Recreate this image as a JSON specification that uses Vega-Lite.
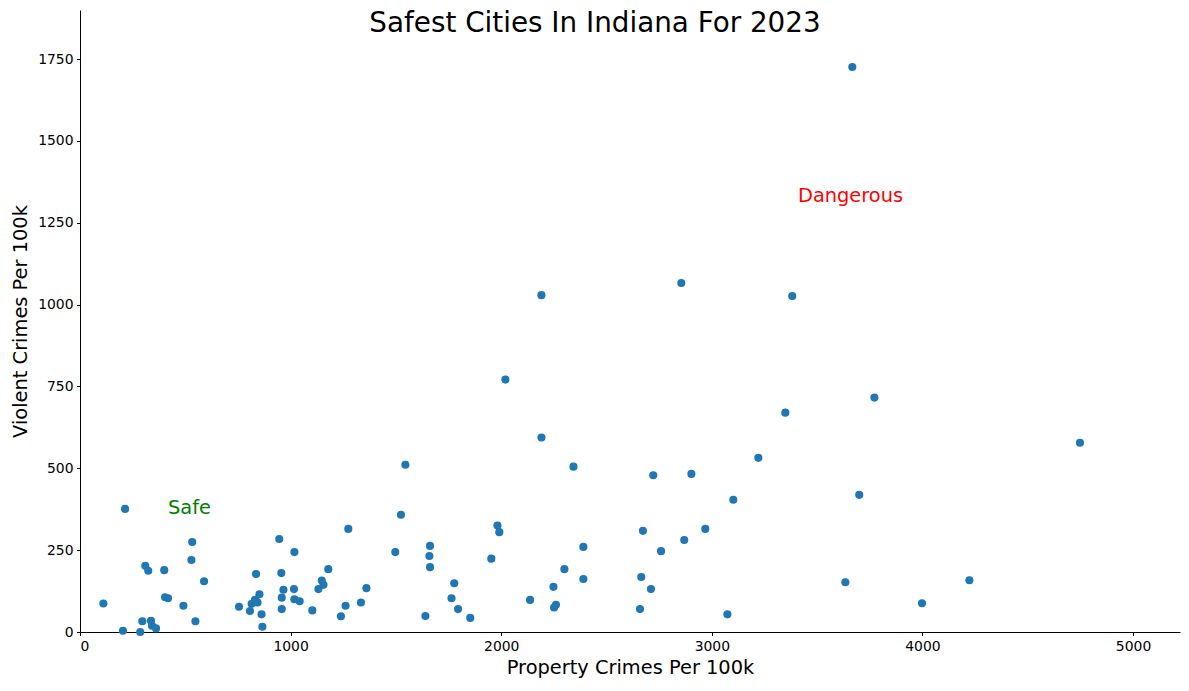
{
  "$schema": "https://vega.github.io/schema/vega-lite/v6.json",
  "width": 1100,
  "height": 622,
  "autosize": "none",
  "padding": {"left": 80, "top": 10, "right": 9, "bottom": 59},
  "background": "white",
  "config": {
    "font": "DejaVu Sans",
    "view": {"stroke": null},
    "axis": {
      "grid": false,
      "domainColor": "black",
      "domainWidth": 1,
      "tickColor": "black",
      "tickSize": 3.5,
      "tickWidth": 1,
      "labelFont": "DejaVu Sans",
      "labelFontSize": 13.9,
      "labelColor": "black",
      "labelPadding": 3.5,
      "titleFont": "DejaVu Sans",
      "titleFontSize": 19.4,
      "titleFontWeight": "normal",
      "titleColor": "black"
    }
  },
  "title": {
    "text": "Safest Cities In Indiana For 2023",
    "font": "DejaVu Sans",
    "fontSize": 27.8,
    "fontWeight": "normal",
    "color": "black",
    "anchor": "middle",
    "frame": "group",
    "dx": -35,
    "dy": 27,
    "baseline": "alphabetic",
    "offset": -23
  },
  "datasets": {
    "cities": [
      {"property": 214, "violent": 376}, {"property": 1274, "violent": 315}, {"property": 533, "violent": 275},
      {"property": 946, "violent": 284}, {"property": 1018, "violent": 244}, {"property": 529, "violent": 220},
      {"property": 310, "violent": 202}, {"property": 324, "violent": 187}, {"property": 400, "violent": 189},
      {"property": 1179, "violent": 192}, {"property": 836, "violent": 177}, {"property": 956, "violent": 180},
      {"property": 589, "violent": 155}, {"property": 1148, "violent": 157}, {"property": 1156, "violent": 144},
      {"property": 1132, "violent": 131}, {"property": 966, "violent": 129}, {"property": 1016, "violent": 131},
      {"property": 852, "violent": 115}, {"property": 404, "violent": 106}, {"property": 418, "violent": 103},
      {"property": 831, "violent": 98}, {"property": 958, "violent": 105}, {"property": 1018, "violent": 100},
      {"property": 1043, "violent": 94}, {"property": 111, "violent": 87}, {"property": 491, "violent": 80},
      {"property": 755, "violent": 77}, {"property": 815, "violent": 86}, {"property": 843, "violent": 90},
      {"property": 1261, "violent": 80}, {"property": 958, "violent": 70}, {"property": 1103, "violent": 66},
      {"property": 1239, "violent": 48}, {"property": 807, "violent": 64}, {"property": 862, "violent": 54},
      {"property": 548, "violent": 33}, {"property": 866, "violent": 16}, {"property": 296, "violent": 33},
      {"property": 337, "violent": 34}, {"property": 342, "violent": 19}, {"property": 361, "violent": 11},
      {"property": 204, "violent": 4}, {"property": 286, "violent": 0},
      {"property": 1524, "violent": 358}, {"property": 1497, "violent": 244}, {"property": 1662, "violent": 263},
      {"property": 1659, "violent": 232}, {"property": 1662, "violent": 198}, {"property": 1982, "violent": 325},
      {"property": 1991, "violent": 305}, {"property": 1953, "violent": 224}, {"property": 2390, "violent": 260},
      {"property": 2300, "violent": 192}, {"property": 2390, "violent": 162}, {"property": 2248, "violent": 138},
      {"property": 1777, "violent": 149}, {"property": 1764, "violent": 103}, {"property": 1795, "violent": 70},
      {"property": 1853, "violent": 43}, {"property": 1640, "violent": 49}, {"property": 2137, "violent": 98},
      {"property": 2260, "violent": 83}, {"property": 2251, "violent": 75}, {"property": 1360, "violent": 134},
      {"property": 1334, "violent": 90}, {"property": 1545, "violent": 511},
      {"property": 3102, "violent": 404}, {"property": 3700, "violent": 419}, {"property": 2673, "violent": 309},
      {"property": 2969, "violent": 315}, {"property": 2869, "violent": 281}, {"property": 2759, "violent": 247},
      {"property": 2665, "violent": 168}, {"property": 2711, "violent": 131}, {"property": 2659, "violent": 70},
      {"property": 3074, "violent": 54}, {"property": 3634, "violent": 152},
      {"property": 4748, "violent": 578}, {"property": 4223, "violent": 158}, {"property": 3998, "violent": 88},
      {"property": 3667, "violent": 1726}, {"property": 2191, "violent": 1029}, {"property": 2855, "violent": 1066},
      {"property": 3382, "violent": 1026}, {"property": 2020, "violent": 771}, {"property": 3772, "violent": 716},
      {"property": 3349, "violent": 670}, {"property": 2191, "violent": 594}, {"property": 3221, "violent": 532},
      {"property": 2343, "violent": 505}, {"property": 2722, "violent": 479}, {"property": 2903, "violent": 483}
    ],
    "labels": [
      {"property": 418, "violent": 359, "label": "Safe", "kind": "safe"},
      {"property": 3409, "violent": 1312, "label": "Dangerous", "kind": "danger"}
    ]
  },
  "layer": [
    {
      "data": {"name": "cities"},
      "mark": {"type": "point", "filled": true, "opacity": 1, "size": 66, "color": "#1f77b4"},
      "encoding": {
        "x": {
          "field": "property", "type": "quantitative",
          "scale": {"domain": [0, 5223], "nice": false, "zero": false},
          "axis": {"title": "Property Crimes Per 100k", "format": "d", "values": [0, 1000, 2000, 3000, 4000, 5000], "titlePadding": 6}
        },
        "y": {
          "field": "violent", "type": "quantitative",
          "scale": {"domain": [0, 1900], "nice": false, "zero": false},
          "axis": {"title": "Violent Crimes Per 100k", "format": "d", "values": [0, 250, 500, 750, 1000, 1250, 1500, 1750], "titlePadding": 7}
        }
      }
    },
    {
      "data": {"name": "labels"},
      "mark": {"type": "text", "align": "left", "baseline": "alphabetic", "fontSize": 19.4, "font": "DejaVu Sans"},
      "encoding": {
        "x": {"field": "property", "type": "quantitative"},
        "y": {"field": "violent", "type": "quantitative"},
        "text": {"field": "label"},
        "color": {
          "field": "kind", "type": "nominal",
          "scale": {"domain": ["safe", "danger"], "range": ["#008000", "#ff0000"]},
          "legend": null
        }
      }
    }
  ]
}
